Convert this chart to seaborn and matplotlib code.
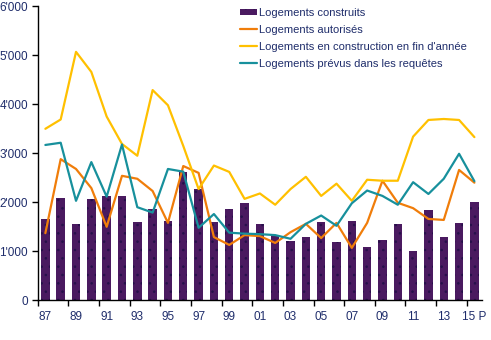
import numpy as np
import pandas as pd
import matplotlib
matplotlib.use("Agg")
import matplotlib.pyplot as plt
import seaborn as sns
from matplotlib.ticker import FuncFormatter, FixedLocator
from matplotlib.patches import Patch
from matplotlib.lines import Line2D

years = list(range(1987, 2016))
year_labels = ["87", "89", "91", "93", "95", "97", "99", "01", "03", "05",
               "07", "09", "11", "13", "15 P"]

construits = [1660, 2090, 1560, 2070, 2130, 2130, 1600, 1860, 1620, 2620,
              2270, 1600, 1860, 1990, 1560, 1310, 1210, 1290, 1600, 1190,
              1620, 1090, 1230, 1560, 1010, 1840, 1290, 1580, 2010]
autorises = [1370, 2880, 2680, 2290, 1500, 2540, 2480, 2230, 1580, 2740,
             2600, 1290, 1130, 1330, 1310, 1170, 1390, 1560, 1270, 1580,
             1070, 1580, 2440, 1990, 1880, 1660, 1640, 2660, 2400]
en_construction = [3500, 3690, 5070, 4660, 3750, 3190, 2950, 4290, 3980, 3150,
                   2270, 2750, 2620, 2070, 2180, 1950, 2270, 2520, 2130, 2380,
                   2030, 2460, 2440, 2440, 3340, 3680, 3700, 3680, 3330]
prevus = [3170, 3215, 2030, 2820, 2115, 3180, 1900, 1790, 2680, 2625,
          1480, 1760, 1380, 1360, 1350, 1330, 1255, 1560, 1730, 1520,
          1980, 2240, 2130, 1950, 2410, 2170, 2480, 2990, 2430]

df = pd.DataFrame({
    "pos": np.arange(len(years)),
    "annee": years,
    "construits": construits,
    "autorises": autorises,
    "en_construction": en_construction,
    "prevus": prevus,
})

text_col = "#1F2D6B"
bar_col = "#4A1A60"
orange = "#F07D0A"
yellow = "#FFC000"
teal = "#17909C"

sns.set_style("white")
plt.rcParams["font.family"] = ["Liberation Sans", "DejaVu Sans"]
plt.rcParams["hatch.linewidth"] = 0.6
plt.rcParams["hatch.color"] = "#25104A"

fig = plt.figure(figsize=(4.91, 3.40), dpi=100)
ax = fig.add_axes([0.0768, 0.1168, 0.905, 0.8647])

sns.barplot(data=df, x="pos", y="construits", color=bar_col, width=0.55,
            saturation=1, ax=ax, zorder=1, linewidth=0)
for p in ax.patches:
    p.set_hatch("..")
    p.set_edgecolor("#25104A")
    p.set_linewidth(0)

for col, c in [("autorises", orange), ("en_construction", yellow), ("prevus", teal)]:
    sns.lineplot(data=df, x="pos", y=col, color=c, linewidth=1.6, ax=ax,
                 zorder=3)

ax.set_xlim(-0.5, len(years) - 0.5)
ax.set_ylim(0, 6000)
ax.set_xlabel("")
ax.set_ylabel("")

ax.xaxis.set_major_locator(FixedLocator(np.arange(0, len(years), 2)))
ax.set_xticklabels(year_labels)
ax.xaxis.set_minor_locator(FixedLocator(np.arange(-0.5, len(years) - 1, 2)))
ax.tick_params(axis="x", which="major", length=0, pad=8,
               labelsize=8.5, labelcolor=text_col)
ax.tick_params(axis="x", which="minor", length=4, width=1, direction="out",
               color="black", bottom=True)

ax.set_yticks(np.arange(0, 6001, 1000))
ax.yaxis.set_major_formatter(FuncFormatter(
    lambda v, _: f"{int(v):,}".replace(",", "'")))
ax.tick_params(axis="y", length=4, width=1, direction="out", color="black",
               left=True, labelsize=8.5, labelcolor=text_col, pad=3)

for s in ["top", "right"]:
    ax.spines[s].set_visible(False)
for s in ["left", "bottom"]:
    ax.spines[s].set_color("black")
    ax.spines[s].set_linewidth(1)

handles = [
    Patch(facecolor=bar_col, edgecolor="#25104A", hatch="..", linewidth=0),
    Line2D([], [], color=orange, linewidth=1.6),
    Line2D([], [], color=yellow, linewidth=1.6),
    Line2D([], [], color=teal, linewidth=1.6),
]
labels = ["Logements construits", "Logements autorisés",
          "Logements en construction en fin d'année",
          "Logements prévus dans les requêtes"]
leg = ax.legend(handles, labels, loc="upper left",
                bbox_to_anchor=(240 / 491, 1 - 8 / 340),
                bbox_transform=fig.transFigure, frameon=False,
                fontsize=8, handlelength=1.5, handleheight=0.5,
                handletextpad=0.25, labelspacing=0.62, borderpad=0,
                borderaxespad=0)
for t in leg.get_texts():
    t.set_color(text_col)

fig.savefig("out.png", dpi=100)
